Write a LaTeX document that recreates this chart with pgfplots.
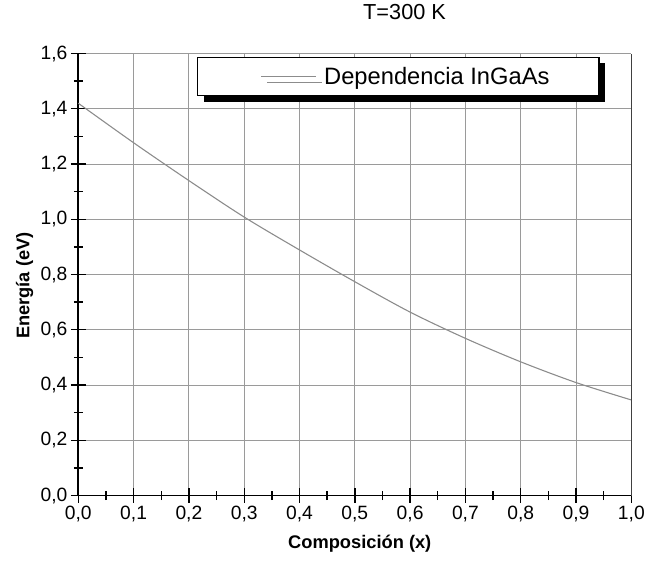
\documentclass[border=0pt]{standalone}
\usepackage{pgfplots}
\pgfplotsset{compat=1.18}
\usepackage{fontspec}
\setmainfont{Liberation Sans}
\usetikzlibrary{calc,shadows}

\definecolor{gridgray}{HTML}{9A9A9A}
\definecolor{curvegray}{HTML}{8C8C8C}

\begin{document}
\begin{tikzpicture}
\begin{axis}[
    name=ax,
    scale only axis, width=558bp, height=446bp,
    xmin=0, xmax=1, ymin=0, ymax=1.6,
    clip=false,
    axis lines=left,
    axis line style={-, line width=1.8bp, black},
    xtick={0,0.1,0.2,0.3,0.4,0.5,0.6,0.7,0.8,0.9,1.0},
    ytick={0,0.2,0.4,0.6,0.8,1.0,1.2,1.4,1.6},
    minor x tick num=1, minor y tick num=1,
    tick align=center,
    major tick length=15bp, minor tick length=9bp,
    tick style={black, line width=1.4bp},
    grid=major, grid style={gridgray, line width=0.9bp},
    /pgf/number format/fixed,
    /pgf/number format/fixed zerofill,
    /pgf/number format/precision=1,
    /pgf/number format/use comma,
    /pgf/number format/assume math mode=true,
    tick label style={font=\fontsize{19.5}{22}\selectfont},
    title={T=300 K},
    title style={at={(axis description cs:0.59,1.081)}, anchor=center, font=\fontsize{22}{26}\selectfont},
    xlabel={Composición (x)},
    ylabel={Energía (eV)},
    xlabel style={at={(axis description cs:0.509,-0.108)}, anchor=center, font=\bfseries\fontsize{18.5}{22}\selectfont},
    ylabel style={at={(axis description cs:-0.097,0.475)}, anchor=center, font=\bfseries\fontsize{18.5}{22}\selectfont},
    legend style={at={(rel axis cs:0.215,0.993)}, anchor=north west,
        draw=black, line width=1.2bp, fill=white,
        inner xsep=0pt, inner ysep=8bp,
        font=\fontsize{24}{27}\selectfont,
        general shadow={fill=black, shadow xshift=6bp, shadow yshift=-6bp}},
    legend image code/.code={
        % invisible spacer before the line sample
        \pgfpathmoveto{\pgfqpoint{0bp}{0bp}}%
        \pgfpathlineto{\pgfqpoint{64bp}{0bp}}%
        \pgfusepath{discard}%
        \draw[#1] (64bp,0bp) -- (119bp,0bp);
    },
]
\addplot[curvegray, line width=1.1bp, smooth] coordinates {
    (0.0, 1.420) (0.1, 1.277) (0.2, 1.140) (0.3, 1.008)
    (0.4, 0.889) (0.5, 0.774) (0.6, 0.664) (0.7, 0.569)
    (0.8, 0.484) (0.9, 0.409) (1.0, 0.346)
};
\addlegendentry{\hspace*{6bp}Dependencia InGaAs\hspace*{48bp}}

% right border
\draw[black!75, line width=1.2bp] (rel axis cs:1,0) -- (rel axis cs:1,1);
% page frame
\path ([xshift=-79bp,yshift=-67bp]rel axis cs:0,0) rectangle ([xshift=11bp,yshift=54bp]rel axis cs:1,1);
\end{axis}
\end{tikzpicture}
\end{document}
